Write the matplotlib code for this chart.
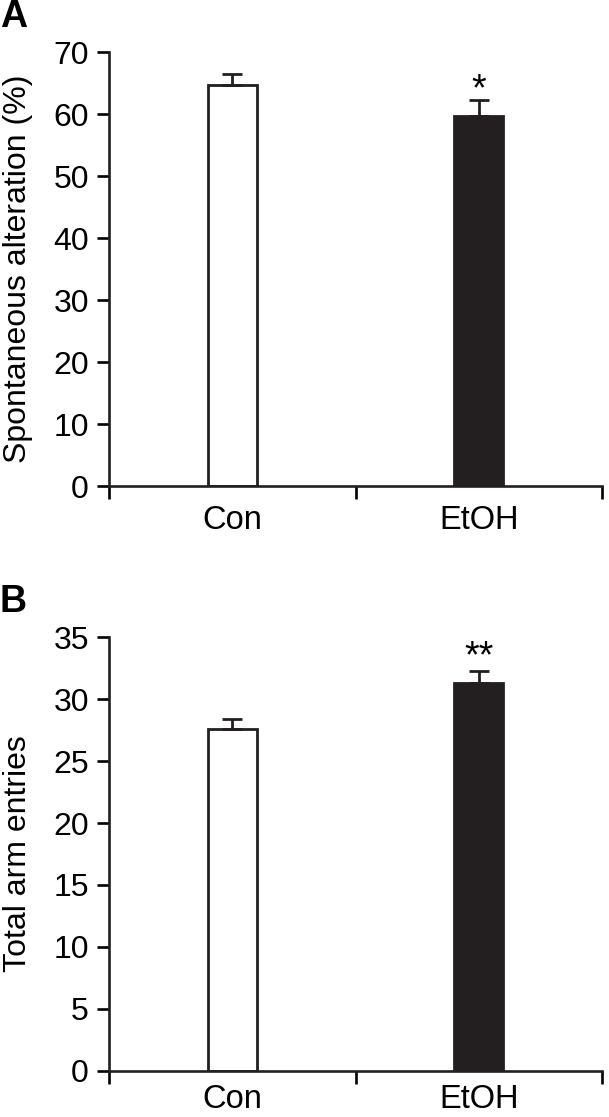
import matplotlib.pyplot as plt

plt.rcParams['font.family'] = ['Liberation Sans', 'DejaVu Sans']

groups = ['Con', 'EtOH']
positions = [0.5, 1.5]
colors = ['white', '#231f20']

# Panel A: spontaneous alternation (%)
alt_mean = [64.7, 59.7]
alt_sem = [1.7, 2.5]
alt_sig = ['', '*']

# Panel B: total arm entries
arm_mean = [27.6, 31.3]
arm_sem = [0.8, 1.0]
arm_sig = ['', '**']

fig = plt.figure(figsize=(6.09, 11.17), dpi=100)
axA = fig.add_axes([0.179, 0.5649, 0.8095, 0.3885])
axB = fig.add_axes([0.179, 0.0412, 0.8095, 0.3885])


def draw(ax, means, sems, sig, ymax, step, ylabel, letter, star_y, xpad):
    ax.bar(positions, means, width=0.2, color=colors, edgecolor='#231f20',
           linewidth=2, zorder=2)
    ax.errorbar(positions, means, yerr=[[0, 0], sems], fmt='none',
                ecolor='#231f20', elinewidth=2, capsize=7, capthick=2, zorder=3)
    for x, s, y in zip(positions, sig, star_y):
        if s:
            ax.text(x, y, s, ha='center', va='center', fontsize=27)
    ax.set_xlim(0, 2)
    ax.set_ylim(0, ymax)
    ax.set_yticks(range(0, ymax + 1, step))
    ax.set_xticks([0, 1, 2])
    ax.set_xticklabels([])
    ax.set_xticks(positions, minor=True)
    ax.set_xticklabels(groups, minor=True)
    ax.tick_params(axis='x', which='major', direction='out', length=9.5, width=1.9)
    ax.tick_params(axis='x', which='minor', length=0, pad=xpad, labelsize=23.5)
    ax.tick_params(axis='y', direction='out', length=8.5, width=1.9, pad=6,
                   labelsize=23)
    for side in ['top', 'right']:
        ax.spines[side].set_visible(False)
    for side in ['left', 'bottom']:
        ax.spines[side].set_linewidth(1.9)
        ax.spines[side].set_color('#231f20')
    ax.set_ylabel(ylabel, fontsize=23)
    ax.yaxis.set_label_coords(-0.155, 0.5)
    ax.text(-0.222, 1.04, letter, transform=ax.transAxes, fontsize=27,
            fontweight='bold', ha='left', va='bottom')


draw(axA, alt_mean, alt_sem, alt_sig, 70, 10, 'Spontaneous alteration (%)',
     'A', [0, 63.9], 14)
draw(axB, arm_mean, arm_sem, arm_sig, 35, 5, 'Total arm entries',
     'B', [0, 33.4], 9.5)

fig.savefig('out.png', dpi=100)
